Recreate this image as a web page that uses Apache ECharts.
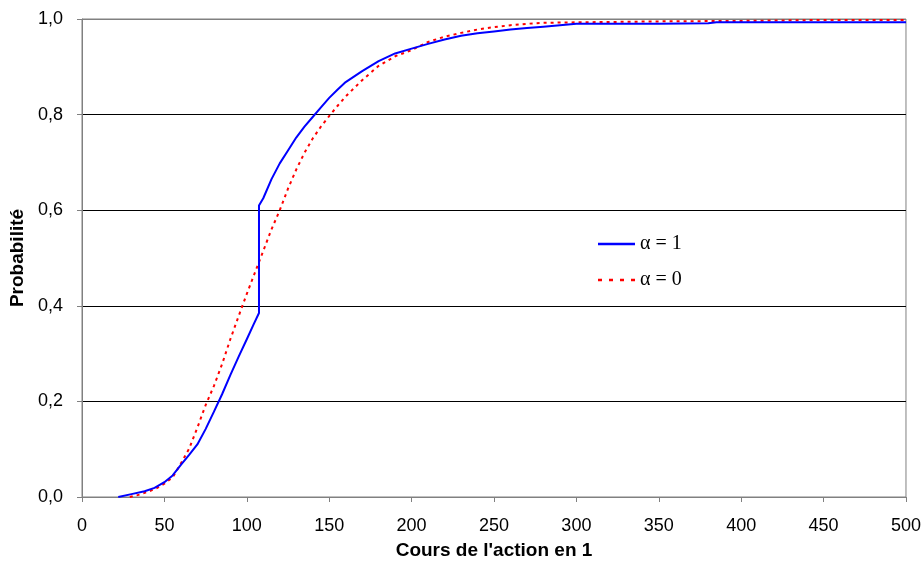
<!DOCTYPE html>
<html><head><meta charset="utf-8">
<script src="https://cdn.jsdelivr.net/npm/echarts@6/dist/echarts.min.js"></script>
<style>html,body{margin:0;padding:0;background:#fff}#c{width:924px;height:565px}</style>
</head><body><div id="c"></div>
<script>
const blueX = [22,30,38,44,50,55,60,65,70,75,80,85,90,95,100,104,107.4,107.4,110,115,120,125,130,135,140,145,150,155,160,170,180,190,200,210,220,230,240,250,260,270,280,290,300,320,350,380,385,420,460,500];
const blueY = [0,0.006,0.012,0.019,0.031,0.045,0.067,0.088,0.11,0.142,0.178,0.215,0.255,0.293,0.33,0.36,0.385,0.61,0.625,0.665,0.698,0.725,0.752,0.775,0.795,0.815,0.835,0.852,0.868,0.891,0.912,0.928,0.938,0.948,0.957,0.965,0.970,0.974,0.978,0.981,0.984,0.987,0.990,0.990,0.990,0.991,0.993,0.993,0.993,0.993];
const redX = [29,35,40,45,50,55,60,65,70,75,80,85,90,95,100,105,110,115,120,125,130,135,140,145,150,155,160,170,180,190,200,210,220,230,240,250,260,270,280,300,350,400,450,500];
const redY = [0,0.005,0.011,0.018,0.028,0.041,0.07,0.101,0.145,0.192,0.232,0.278,0.33,0.378,0.425,0.47,0.515,0.56,0.6,0.645,0.685,0.72,0.75,0.775,0.797,0.818,0.838,0.872,0.902,0.922,0.935,0.952,0.963,0.971,0.978,0.983,0.987,0.990,0.992,0.993,0.995,0.996,0.998,0.998];
const seriesNames = ['α = 1', 'α = 0'];
const xTitle = "Cours de l'action en 1";
const yTitle = 'Probabilité';

const zip = (xs, ys) => xs.map((x, i) => [x, ys[i]]);
const chart = echarts.init(document.getElementById('c'));
chart.setOption({
  animation: false,
  backgroundColor: '#fff',
  grid: { left: 82, right: 18, top: 19, bottom: 68, show: true, borderColor: '#808080', borderWidth: 1 },
  legend: {
    orient: 'vertical', left: 598, top: 234, padding: 0, itemWidth: 37, itemHeight: 20, itemGap: 16,
    textStyle: { fontFamily: 'Liberation Serif', fontSize: 20, color: '#000' },
    data: [
      { name: seriesNames[0], icon: 'path://M0,0h37v2.4h-37z', itemStyle: { color: '#0000ff' } },
      { name: seriesNames[1], icon: 'path://M0,0h4v2.4h-4z M11,0h4v2.4h-4z M22,0h4v2.4h-4z M33,0h4v2.4h-4z', itemStyle: { color: '#ff0000' } }
    ]
  },
  xAxis: {
    type: 'value', min: 0, max: 500, interval: 50,
    name: xTitle, nameLocation: 'middle', nameGap: 44,
    nameTextStyle: { fontFamily: 'Liberation Sans', fontWeight: 'bold', fontSize: 19, color: '#000' },
    axisLine: { show: true, lineStyle: { color: '#808080' } },
    axisTick: { show: true, length: 5, lineStyle: { color: '#808080' } },
    axisLabel: { fontFamily: 'Liberation Sans', fontSize: 18, color: '#000', margin: 20 },
    splitLine: { show: false }
  },
  yAxis: {
    type: 'value', min: 0, max: 1, interval: 0.2,
    name: yTitle, nameLocation: 'middle', nameGap: 52, nameRotate: 90,
    nameTextStyle: { fontFamily: 'Liberation Sans', fontWeight: 'bold', fontSize: 19, color: '#000' },
    axisLine: { show: true, lineStyle: { color: '#808080' } },
    axisTick: { show: true, length: 5, lineStyle: { color: '#808080' } },
    axisLabel: { fontFamily: 'Liberation Sans', fontSize: 18, color: '#000', margin: 19,
      formatter: v => v.toFixed(1).replace('.', ',') },
    splitLine: { show: true, lineStyle: { color: ['#808080','#000','#000','#000','#000','#808080'], width: 1 } }
  },
  series: [
    { name: seriesNames[1], type: 'line', data: zip(redX, redY), symbol: 'none', z: 2,
      lineStyle: { color: '#ff0000', width: 2, type: [3, 4] }, itemStyle: { color: '#ff0000' } },
    { name: seriesNames[0], type: 'line', data: zip(blueX, blueY), symbol: 'none', z: 3,
      lineStyle: { color: '#0000ff', width: 2 }, itemStyle: { color: '#0000ff' } }
  ]
});
</script></body></html>
